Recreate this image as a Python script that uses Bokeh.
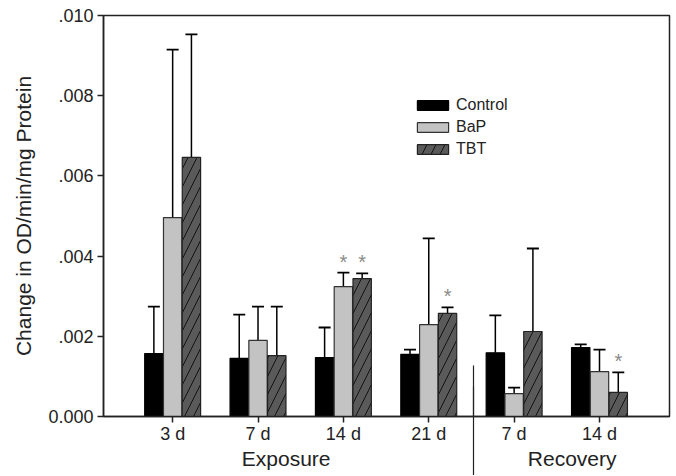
from bokeh.plotting import figure
from bokeh.models import (ColumnDataSource, Whisker, TeeHead, FixedTicker, CustomJSTickFormatter,
                          Legend, LegendItem, LinearAxis)
from bokeh.core.properties import value
from bokeh.embed import file_html
from bokeh.resources import INLINE

# ---- data ----
days = ["3 d", "7 d", "14 d", "21 d", "7 d", "14 d"]
phases = ["Exposure", "Recovery"]
control = [0.00157, 0.00145, 0.00147, 0.00155, 0.00159, 0.00172]
control_se = [0.00117, 0.00109, 0.00075, 0.00012, 0.00093, 0.00008]
bap = [0.00496, 0.00190, 0.00324, 0.00229, 0.00057, 0.00112]
bap_se = [0.00419, 0.00084, 0.00035, 0.00215, 0.00015, 0.00055]
tbt = [0.00646, 0.00152, 0.00344, 0.00257, 0.00212, 0.00060]
tbt_se = [0.00307, 0.00122, 0.00013, 0.00015, 0.00207, 0.00050]
bap_sig = [0, 0, 1, 0, 0, 0]
tbt_sig = [0, 0, 1, 1, 0, 1]
y_ticks = [0.0, 0.002, 0.004, 0.006, 0.008, 0.010]

# layout constants
phase_centers = [1.33, 4.68]
phase_split = 3.52
FONT = "Liberation Sans"
TXT = "#222222"
idx = list(range(len(days)))
OFF = 0.22
W = 0.215

p = figure(width=672, height=475, x_range=(-0.81, 5.82), y_range=(0, 0.010),
           output_backend="svg", toolbar_location=None,
           min_border_left=103, min_border_right=3, min_border_top=15, min_border_bottom=59)
p.xgrid.visible = False
p.ygrid.visible = False
p.outline_line_color = "#222222"
p.outline_line_width = 1.5
p.background_fill_color = "white"
p.border_fill_color = "white"

series = [
    ("Control", control, control_se, -OFF, dict(fill_color="black", line_color="black")),
    ("BaP", bap, bap_se, 0.0, dict(fill_color="#c3c3c3", line_color="#333333")),
    ("TBT", tbt, tbt_se, OFF, dict(fill_color="#5a5a5a", line_color="#222222",
                                   hatch_pattern="/", hatch_color="#111111",
                                   hatch_scale=18, hatch_weight=1)),
]
items = []
for name, vals, se, off, style in series:
    xs = [i + off for i in idx]
    src = ColumnDataSource(dict(x=xs, top=vals, upper=[v + s for v, s in zip(vals, se)]))
    r = p.vbar(x="x", top="top", bottom=0, width=W, source=src, line_width=1.2, **style)
    items.append(LegendItem(label=name, renderers=[r]))
    wk = Whisker(base="x", lower="top", upper="upper", dimension="height", source=src,
                 line_color="black", line_width=1.5,
                 upper_head=TeeHead(size=12, line_color="black", line_width=1.8),
                 lower_head=None)
    p.add_layout(wk)

# significance asterisks
for vals, se, sig, off in [(bap, bap_se, bap_sig, 0.0), (tbt, tbt_se, tbt_sig, OFF)]:
    sx = [i + off for i in idx if sig[i]]
    sy = [vals[i] + se[i] for i in idx if sig[i]]
    p.text(x=sx, y=sy, text=["*"] * len(sx), text_font=value(FONT), text_font_size="20px",
           text_color="#8a8a8a", text_align="center", text_baseline="alphabetic", y_offset=-11)

# axes
xa = p.xaxis[0]
xa.ticker = FixedTicker(ticks=idx, minor_ticks=[phase_split])
xa.major_label_overrides = {i: d for i, d in enumerate(days)}
xa.major_tick_out = 6
xa.major_tick_in = 0
xa.minor_tick_out = 0
xa.minor_tick_in = 51
xa.minor_tick_line_color = "#222222"
xa.minor_tick_line_width = 1.2
xa.major_label_standoff = 1

ya = p.yaxis[0]
ya.ticker = FixedTicker(ticks=y_ticks)
ya.formatter = CustomJSTickFormatter(code="return tick == 0 ? '0.000' : tick.toFixed(3).replace(/^0/, '');")
ya.major_tick_out = 6
ya.major_tick_in = 0
ya.minor_tick_line_color = None
ya.major_label_standoff = 4
ya.axis_label = "Change in OD/min/mg Protein"
ya.axis_label_standoff = 10

for ax in (xa, ya):
    ax.axis_line_color = "#222222"
    ax.axis_line_width = 1.5
    ax.major_tick_line_color = "#222222"
    ax.major_tick_line_width = 1.5
    ax.major_label_text_font = FONT
    ax.major_label_text_font_size = "18px"
    ax.major_label_text_color = TXT
    ax.axis_label_text_font = FONT
    ax.axis_label_text_font_size = "21px"
    ax.axis_label_text_font_style = "normal"
    ax.axis_label_text_color = TXT

# second axis: phase labels + divider continuing below the frame
pa = LinearAxis(ticker=FixedTicker(ticks=phase_centers, minor_ticks=[phase_split]),
                formatter=CustomJSTickFormatter(args=dict(labels=phases, split=phase_split),
                                                code="return tick < split ? labels[0] : labels[1];"),
                axis_line_color=None, major_tick_line_color=None,
                major_tick_in=0, major_tick_out=0,
                minor_tick_in=60, minor_tick_out=29, minor_tick_line_color="#222222",
                minor_tick_line_width=1.2, major_label_standoff=-29,
                major_label_text_font=FONT, major_label_text_font_size="21px",
                major_label_text_color=TXT)
p.add_layout(pa, "below")

legend = Legend(items=items, location=(310, 258), orientation="vertical",
                glyph_width=39, glyph_height=12, label_height=12, spacing=4,
                label_standoff=4, padding=0, margin=0,
                label_text_font=FONT, label_text_font_size="16px", label_text_color=TXT,
                border_line_color=None, background_fill_alpha=0)
p.add_layout(legend, "center")

open("out.html", "w").write(file_html(p, INLINE))
